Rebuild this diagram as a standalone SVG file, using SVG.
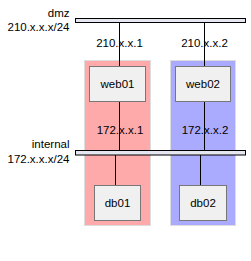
<svg xmlns="http://www.w3.org/2000/svg" width="251" height="261" viewBox="0 0 251 261">
<style>
text{font-family:"Liberation Sans",Arial,sans-serif;font-size:11.5px;fill:#000}
.lbl{text-anchor:end}
.mid{text-anchor:middle}
.grp{stroke:#dddddd;stroke-width:1}
.node{fill:#f0f0f0;stroke:#777777;stroke-width:1}
.bar{fill:#e6e6f0;stroke:#000;stroke-width:1}
.wire{stroke:#000;stroke-width:1;fill:none}
</style>
<rect width="251" height="261" fill="#ffffff"/>
<g id="group-red"><rect class="grp" x="84.5" y="60.5" width="66" height="165" fill="#ffaaaa"/></g>
<g id="group-blue"><rect class="grp" x="170.5" y="60.5" width="65" height="165" fill="#aaaaff"/></g>
<g id="connectors">
<line class="wire" x1="119.5" y1="22.5" x2="119.5" y2="66.5"/>
<line class="wire" x1="119.5" y1="101.5" x2="119.5" y2="150.5"/>
<line class="wire" x1="204.5" y1="22.5" x2="204.5" y2="66.5"/>
<line class="wire" x1="204.5" y1="101.5" x2="204.5" y2="150.5"/>
<line class="wire" x1="115.5" y1="155" x2="115.5" y2="185.5"/>
<line class="wire" x1="200.5" y1="155" x2="200.5" y2="185.5"/>
<text class="mid" x="119.5" y="46.5">210.x.x.1</text>
<text class="mid" x="204.5" y="46.5">210.x.x.2</text>
<text class="mid" x="120" y="134">172.x.x.1</text>
<text class="mid" x="205" y="134">172.x.x.2</text>
</g>
<g id="net-dmz">
<rect class="bar" x="75.5" y="18.5" width="170" height="4"/>
<text class="lbl" x="69.5" y="16.5">dmz</text>
<text class="lbl" x="69.5" y="31">210.x.x.x/24</text>
</g>
<g id="net-internal">
<rect class="bar" x="75.5" y="150.5" width="170" height="4.5"/>
<text class="lbl" x="69.5" y="148">internal</text>
<text class="lbl" x="69.5" y="163">172.x.x.x/24</text>
</g>
<g id="web01"><rect class="node" x="89.5" y="66.5" width="56" height="35"/><text class="mid" x="117.5" y="88">web01</text></g>
<g id="web02"><rect class="node" x="175.5" y="66.5" width="55" height="35"/><text class="mid" x="203" y="88">web02</text></g>
<g id="db01"><rect class="node" x="94.5" y="185.5" width="46" height="35"/><text class="mid" x="117.5" y="207">db01</text></g>
<g id="db02"><rect class="node" x="179.5" y="185.5" width="47" height="35"/><text class="mid" x="203" y="207">db02</text></g>
</svg>
